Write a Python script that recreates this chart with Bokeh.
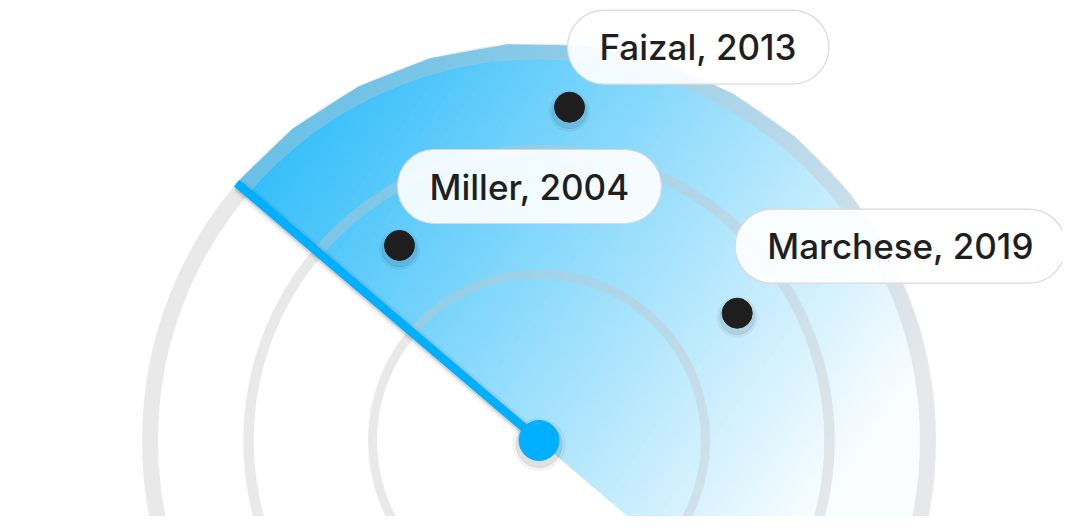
import math
from bokeh.plotting import figure
from bokeh.models import Label
from bokeh.embed import file_html
from bokeh.resources import INLINE

# contacts on the radar, x / y measured from the radar centre
names = ["Faizal", "Miller", "Marchese"]
years = [2013, 2004, 2019]
dot_x = [30.5, -139.5, 198.2]
dot_y = [333.3, 195.0, 127.3]

# range rings
ring_radius = [166.5, 290.5, 389.0]
ring_width = [9, 10.5, 16]

# the sweep: heading of the hand (deg), width of the trail (deg), reach
sweep_heading = 139.6
sweep_span = 180
sweep_radius = 397
sweep_steps = 16

label_lift = [23, 22, 30]

BLUE = (0, 173, 248)
FONT = "Inter Medium, Inter"

#-------------------------------------------------------------------------------------------------------

def sweep_polygon():
    pts = [(0.0, 0.0)]
    for i in range(sweep_steps + 1):
        ang = math.radians(sweep_heading - sweep_span * i / sweep_steps)
        pts.append((sweep_radius * math.cos(ang), sweep_radius * math.sin(ang)))
    return pts

def clip(poly, d, c, keep_above):
    out = []
    n = len(poly)
    for i in range(n):
        a = poly[i]
        b = poly[(i + 1) % n]
        fa = a[0] * d[0] + a[1] * d[1] - c
        fb = b[0] * d[0] + b[1] * d[1] - c
        if not keep_above:
            fa, fb = -fa, -fb
        if fa >= 0:
            out.append(a)
        if (fa >= 0) != (fb >= 0):
            s = fa / (fa - fb)
            out.append((a[0] + s * (b[0] - a[0]), a[1] + s * (b[1] - a[1])))
    return out

def blend(alpha):
    r = 255 - alpha * (255 - BLUE[0])
    g = 255 - alpha * (255 - BLUE[1])
    b = 255 - alpha * (255 - BLUE[2])
    return "#%02x%02x%02x" % (round(r), round(g), round(b))

#-------------------------------------------------------------------------------------------------------

def draw_sweep(p):
    # linear gradient from the top left of the trail to its lower right,
    # cut into thin strips of flat colour
    poly = sweep_polygon()
    g0 = (-302.5, 394.0)
    g1 = (396.5, -92.0)
    d = (g1[0] - g0[0], g1[1] - g0[1])
    L2 = d[0] ** 2 + d[1] ** 2
    base = g0[0] * d[0] + g0[1] * d[1]
    ts = [((x * d[0] + y * d[1]) - base) / L2 for x, y in poly]
    t_lo, t_hi = min(ts), max(ts)

    xs, ys, cols = [], [], []
    n = 160
    for i in range(n):
        ta = t_lo + (t_hi - t_lo) * i / n
        tb = t_lo + (t_hi - t_lo) * (i + 1) / n
        piece = clip(poly, d, base + ta * L2, True)
        piece = clip(piece, d, base + tb * L2, False)
        if len(piece) < 3:
            continue
        tm = (ta + tb) / 2
        alpha = min(0.95, max(0.02, 0.9 - 1.0 * tm))
        xs.append([q[0] for q in piece])
        ys.append([q[1] for q in piece])
        cols.append(blend(alpha))

    p.patches(xs, ys, fill_color=cols, line_color=cols, line_width=1)

def draw_rings(p):
    for r, w in zip(ring_radius, ring_width):
        p.circle(x=0, y=0, radius=r, fill_color=None,
                 line_color="#c4c6c8", line_alpha=0.38, line_width=w)

def draw_hand(p):
    ang = math.radians(sweep_heading)
    hx = sweep_radius * math.cos(ang)
    hy = sweep_radius * math.sin(ang)
    # soft shadow
    p.segment(x0=2, y0=-3, x1=hx + 2, y1=hy - 3, line_color="black", line_alpha=0.05, line_width=16)
    p.segment(x0=1, y0=-2, x1=hx + 1, y1=hy - 2, line_color="black", line_alpha=0.12, line_width=11)
    p.segment(x0=0, y0=0, x1=hx, y1=hy, line_color="#00b0ff", line_width=8.5)

def draw_dots(p):
    sx = dot_x
    sy = [y - 4 for y in dot_y]
    p.scatter(sx, sy, size=40, color="black", alpha=0.04)
    p.scatter(sx, sy, size=35, color="black", alpha=0.07)
    p.scatter(dot_x, dot_y, size=30, color="#1e1e1e")

    p.scatter([0], [-4], size=52, color="black", alpha=0.04)
    p.scatter([0], [-4], size=46, color="black", alpha=0.08)
    p.scatter([0], [0], size=40, color="#00b0ff")

def draw_labels(p):
    for name, year, x, y, lift in zip(names, years, dot_x, dot_y, label_lift):
        text = f"{name}, {year}"
        for dy, a in [(-5, 0.04), (-3, 0.06)]:
            p.add_layout(Label(x=x, y=y, x_offset=-2, y_offset=lift + dy, text=text,
                               anchor="bottom_left", text_font=FONT, text_font_size="35px",
                               text_alpha=0, padding=(32, 16), border_radius=37,
                               background_fill_color="black", background_fill_alpha=a))
        p.add_layout(Label(x=x, y=y, x_offset=-2, y_offset=lift, text=text,
                           anchor="bottom_left", text_font=FONT, text_font_size="35px",
                           text_color="#1f1f1f", padding=(32, 16), border_radius=37,
                           background_fill_color="white", background_fill_alpha=0.9,
                           border_line_color="#d9d9d9", border_line_width=1.2))

#-------------------------------------------------------------------------------------------------------

def main():
    p = figure(width=1062, height=516, x_range=(-538.5, 523.5), y_range=(-76, 440),
               output_backend="svg", toolbar_location=None, min_border=0)
    p.axis.visible = False
    p.grid.visible = False
    p.outline_line_color = None
    p.background_fill_color = "white"
    p.border_fill_color = "white"

    draw_sweep(p)
    draw_rings(p)
    draw_hand(p)
    draw_dots(p)
    draw_labels(p)

    open("out.html", "w").write(file_html(p, INLINE))


if __name__ == "__main__":
    main()
